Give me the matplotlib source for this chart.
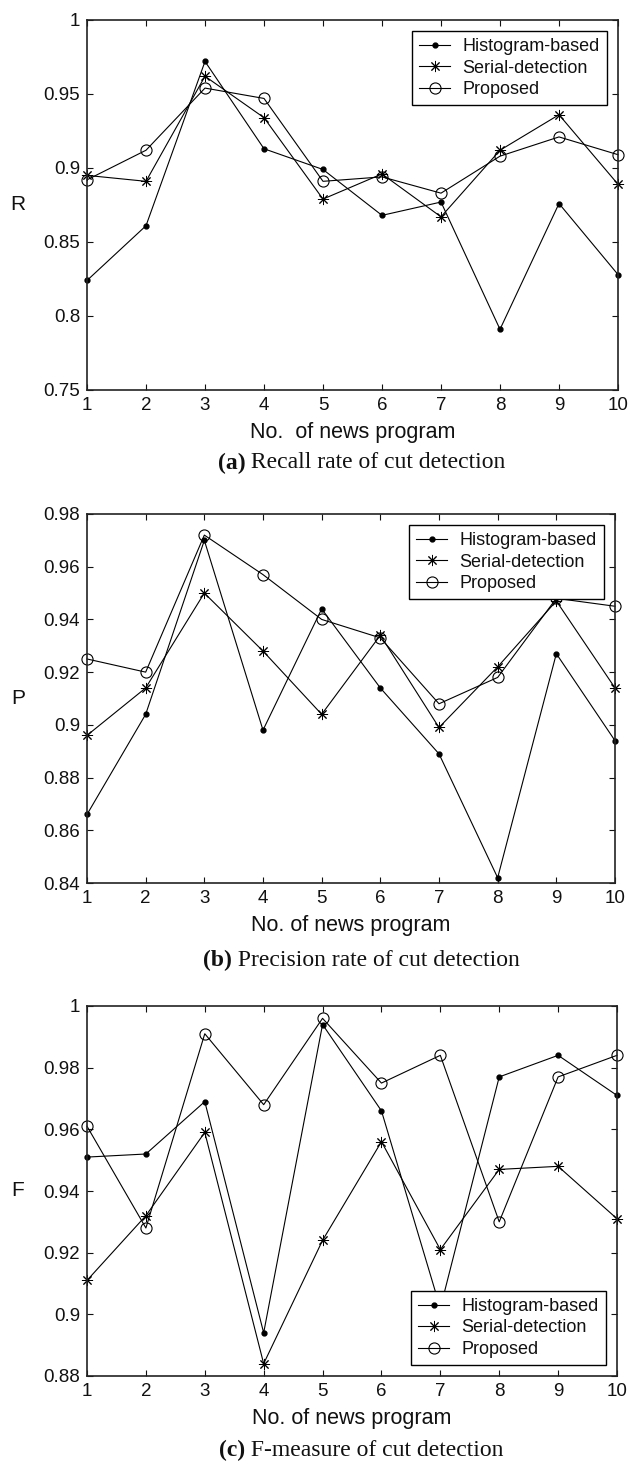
import matplotlib
matplotlib.use("Agg")
from matplotlib import pyplot as plt

# x-axis: news program number
programs = [1, 2, 3, 4, 5, 6, 7, 8, 9, 10]

# (a) recall
recall_hist = [0.824, 0.861, 0.972, 0.913, 0.899, 0.868, 0.877, 0.791, 0.876, 0.828]
recall_serial = [0.895, 0.891, 0.962, 0.934, 0.879, 0.896, 0.867, 0.912, 0.936, 0.889]
recall_prop = [0.892, 0.912, 0.954, 0.947, 0.891, 0.894, 0.883, 0.908, 0.921, 0.909]

# (b) precision
prec_hist = [0.866, 0.904, 0.970, 0.898, 0.944, 0.914, 0.889, 0.842, 0.927, 0.894]
prec_serial = [0.896, 0.914, 0.950, 0.928, 0.904, 0.934, 0.899, 0.922, 0.947, 0.914]
prec_prop = [0.925, 0.920, 0.972, 0.957, 0.940, 0.933, 0.908, 0.918, 0.948, 0.945]

# (c) F-measure
f_hist = [0.951, 0.952, 0.969, 0.894, 0.994, 0.966, 0.902, 0.977, 0.984, 0.971]
f_serial = [0.911, 0.932, 0.959, 0.884, 0.924, 0.956, 0.921, 0.947, 0.948, 0.931]
f_prop = [0.961, 0.928, 0.991, 0.968, 0.996, 0.975, 0.984, 0.930, 0.977, 0.984]

series_names = ["Histogram-based", "Serial-detection", "Proposed"]

W, H = 630, 1464


def _px_axes(fig, left, right, top, bottom):
    # pixel box -> figure fraction
    return fig.add_axes([left / W, 1 - bottom / H, (right - left) / W, (bottom - top) / H])


def draw_panel(ax, hist, serial, prop, ylim, yticks, ytick_labels, ylabel,
               xlabel, caption, caption_y, legend_loc):
    ax.plot(programs, hist, color="black", lw=0.8, marker=".", ms=7,
            clip_on=False, label=series_names[0])
    ax.plot(programs, serial, color="black", lw=0.8, marker=(8, 2, 0), ms=8,
            mew=0.7, clip_on=False, label=series_names[1])
    ax.plot(programs, prop, color="black", lw=0.8, marker="o", ms=8,
            mfc="none", mew=0.8, clip_on=False, label=series_names[2])

    ax.set_xlim(1, 10)
    ax.set_ylim(*ylim)
    ax.set_xticks(programs)
    ax.set_yticks(yticks)
    ax.set_yticklabels(ytick_labels)
    ax.tick_params(direction="in", length=4, width=0.8, top=True, right=True,
                   labelsize=13.5, pad=5)
    for sp in ax.spines.values():
        sp.set_linewidth(1.2)
        sp.set_color("#222222")

    ax.set_ylabel(ylabel, rotation=0, fontsize=15, va="center", ha="center")
    ax.yaxis.set_label_coords(-0.13, 0.5)
    ax.set_xlabel(xlabel, fontsize=15.5, labelpad=6)

    leg = ax.legend(loc=legend_loc, fontsize=13, frameon=True, fancybox=False,
                    edgecolor="black", framealpha=1, handlelength=1.7,
                    handletextpad=0.7, labelspacing=0.25, borderaxespad=0.6,
                    borderpad=0.4)
    leg.get_frame().set_linewidth(1.0)
    leg.set_zorder(10)

    # caption under the panel: bold letter, serif text
    tag, rest = caption
    fig = ax.figure
    t = fig.text(0.573, 1 - caption_y / H, tag + " " + rest, ha="center",
                 va="center", fontsize=17, family="Liberation Serif", alpha=0)
    fig.canvas.draw()
    bb = t.get_window_extent()
    t.remove()
    x0 = bb.x0 / fig.dpi / fig.get_figwidth()
    t1 = fig.text(x0, 1 - caption_y / H, tag, ha="left", va="center",
                  fontsize=17, family="Liberation Serif", weight="bold")
    fig.canvas.draw()
    bb1 = t1.get_window_extent()
    x1 = bb1.x1 / fig.dpi / fig.get_figwidth()
    fig.text(x1, 1 - caption_y / H, " " + rest, ha="left", va="center",
             fontsize=17, family="Liberation Serif")


plt.rcParams["font.family"] = ["Liberation Sans", "DejaVu Sans"]
plt.rcParams["text.color"] = "#111111"
plt.rcParams["axes.labelcolor"] = "#111111"
plt.rcParams["xtick.color"] = "#111111"
plt.rcParams["ytick.color"] = "#111111"

fig = plt.figure(figsize=(6.3, 14.64), dpi=100)

ax_a = _px_axes(fig, 87, 618, 20, 390)
draw_panel(ax_a, recall_hist, recall_serial, recall_prop, (0.75, 1.0),
           [0.75, 0.8, 0.85, 0.9, 0.95, 1.0],
           ["0.75", "0.8", "0.85", "0.9", "0.95", "1"], "R",
           "No.  of news program", ("(a)", "Recall rate of cut detection"),
           463, "upper right")

ax_b = _px_axes(fig, 87, 615, 514, 883)
draw_panel(ax_b, prec_hist, prec_serial, prec_prop, (0.84, 0.98),
           [0.84, 0.86, 0.88, 0.9, 0.92, 0.94, 0.96, 0.98],
           ["0.84", "0.86", "0.88", "0.9", "0.92", "0.94", "0.96", "0.98"], "P",
           "No. of news program", ("(b)", "Precision rate of cut detection"),
           960, "upper right")

ax_c = _px_axes(fig, 87, 617, 1006, 1376)
draw_panel(ax_c, f_hist, f_serial, f_prop, (0.88, 1.0),
           [0.88, 0.9, 0.92, 0.94, 0.96, 0.98, 1.0],
           ["0.88", "0.9", "0.92", "0.94", "0.96", "0.98", "1"], "F",
           "No. of news program", ("(c)", "F-measure of cut detection"),
           1450, "lower right")

fig.savefig("out.png", dpi=100)
